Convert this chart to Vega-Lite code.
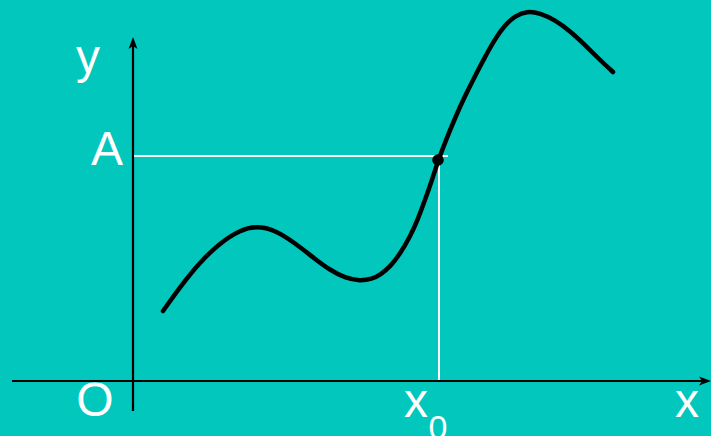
{
  "$schema": "https://vega.github.io/schema/vega-lite/v6.json",
  "width": 711,
  "height": 436,
  "autosize": {"type": "none"},
  "padding": 0,
  "background": "#01C7BD",
  "config": {"view": {"stroke": null}},
  "datasets": {
    "curve": [
      {"x": 30, "y": 70}, {"x": 47, "y": 94}, {"x": 67, "y": 119}, {"x": 87, "y": 138},
      {"x": 107, "y": 151}, {"x": 124, "y": 155}, {"x": 142, "y": 151}, {"x": 162, "y": 138},
      {"x": 182, "y": 122}, {"x": 197, "y": 111}, {"x": 212, "y": 103}, {"x": 227, "y": 100},
      {"x": 239, "y": 102}, {"x": 247, "y": 106}, {"x": 257, "y": 114}, {"x": 267, "y": 127},
      {"x": 277, "y": 144}, {"x": 285, "y": 162}, {"x": 292, "y": 181}, {"x": 299, "y": 201},
      {"x": 305, "y": 220}, {"x": 313, "y": 241}, {"x": 322, "y": 263}, {"x": 332, "y": 285},
      {"x": 342, "y": 305}, {"x": 352, "y": 324}, {"x": 362, "y": 342}, {"x": 372, "y": 356},
      {"x": 382, "y": 365}, {"x": 394, "y": 370}, {"x": 407, "y": 368},
      {"x": 422, "y": 361}, {"x": 437, "y": 350}, {"x": 452, "y": 336}, {"x": 467, "y": 321},
      {"x": 480, "y": 309}
    ],
    "axes": [
      {"x": -121, "x2": 574, "y": 0, "y2": 0},
      {"x": 0, "x2": 0, "y": -30, "y2": 340}
    ],
    "guides": [
      {"x": 0, "x2": 315, "y": 225, "y2": 225},
      {"x": 306, "x2": 306, "y": 0, "y2": 221}
    ],
    "arrows": [
      {"x": 572, "y": 0, "dir": "right"},
      {"x": 0, "y": 338, "dir": "up"}
    ],
    "dot": [{"x": 305, "y": 221}],
    "labels": [
      {"x": -45, "y": 308, "t": "y", "s": 48},
      {"x": -26, "y": 216, "t": "A", "s": 48},
      {"x": -38, "y": -35, "t": "O", "s": 48},
      {"x": 554, "y": -36, "t": "x", "s": 48},
      {"x": 283, "y": -36, "t": "x", "s": 48},
      {"x": 305, "y": -58, "t": "0", "s": 34}
    ]
  },
  "layer": [
    {
      "data": {"name": "guides"},
      "mark": {"type": "rule", "color": "white", "strokeWidth": 2},
      "encoding": {
        "x": {"field": "x", "type": "quantitative", "scale": {"domain": [-133, 578], "nice": false, "zero": false}, "axis": null},
        "x2": {"field": "x2"},
        "y": {"field": "y", "type": "quantitative", "scale": {"domain": [-55, 381], "nice": false, "zero": false}, "axis": null},
        "y2": {"field": "y2"}
      }
    },
    {
      "data": {"name": "axes"},
      "mark": {"type": "rule", "color": "black", "strokeWidth": 2.2},
      "encoding": {
        "x": {"field": "x", "type": "quantitative"},
        "x2": {"field": "x2"},
        "y": {"field": "y", "type": "quantitative"},
        "y2": {"field": "y2"}
      }
    },
    {
      "data": {"name": "arrows"},
      "mark": {"type": "point", "filled": true, "color": "black", "size": 144, "opacity": 1},
      "encoding": {
        "x": {"field": "x", "type": "quantitative"},
        "y": {"field": "y", "type": "quantitative"},
        "shape": {
          "field": "dir", "type": "nominal", "legend": null,
          "scale": {"domain": ["right", "up"], "range": ["M-1,-0.75L1,0L-1,0.75L-0.5,0Z", "M-0.75,1L0,-1L0.75,1L0,0.5Z"]}
        }
      }
    },
    {
      "data": {"name": "curve"},
      "mark": {"type": "line", "color": "black", "strokeWidth": 4.5, "interpolate": "basis", "strokeCap": "round"},
      "encoding": {
        "x": {"field": "x", "type": "quantitative"},
        "y": {"field": "y", "type": "quantitative"}
      }
    },
    {
      "data": {"name": "dot"},
      "mark": {"type": "circle", "color": "black", "size": 135, "opacity": 1},
      "encoding": {
        "x": {"field": "x", "type": "quantitative"},
        "y": {"field": "y", "type": "quantitative"}
      }
    },
    {
      "data": {"name": "labels"},
      "mark": {"type": "text", "color": "white", "font": "Liberation Sans", "align": "center", "baseline": "alphabetic"},
      "encoding": {
        "x": {"field": "x", "type": "quantitative"},
        "y": {"field": "y", "type": "quantitative"},
        "text": {"field": "t"},
        "size": {"field": "s", "type": "quantitative", "scale": null}
      }
    }
  ]
}
